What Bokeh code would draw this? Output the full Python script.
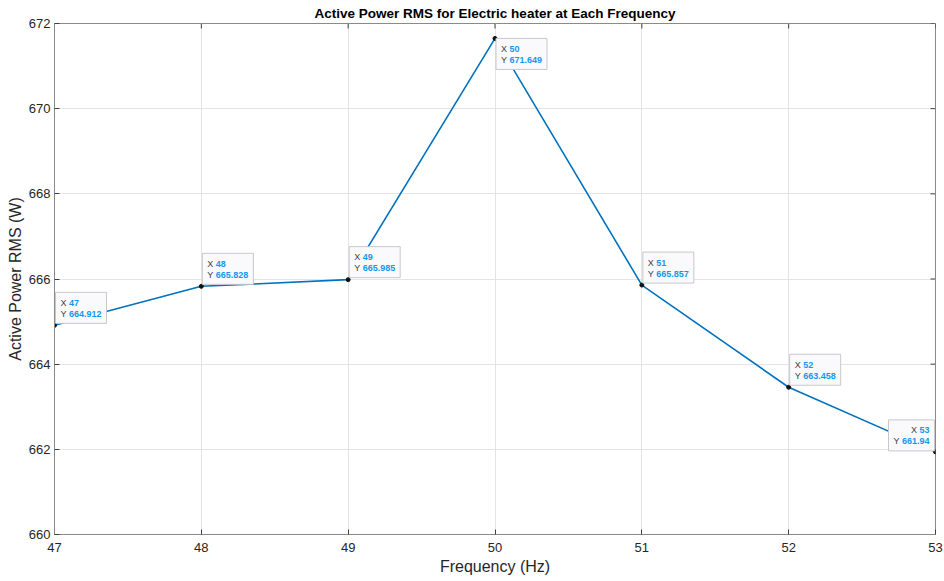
from bokeh.plotting import figure
from bokeh.models import Range1d, FixedTicker, ColumnDataSource
from bokeh.core.properties import value
from bokeh.embed import file_html
from bokeh.resources import INLINE

# ---- data ----
freq = [47, 48, 49, 50, 51, 52, 53]
power = [664.912, 665.828, 665.985, 671.649, 665.857, 663.458, 661.94]
power_text = ["664.912", "665.828", "665.985", "671.649", "665.857", "663.458", "661.94"]
freq_text = ["47", "48", "49", "50", "51", "52", "53"]
x_ticks = [47, 48, 49, 50, 51, 52, 53]
y_ticks = [660, 662, 664, 666, 668, 670, 672]

title_text = "Active Power RMS for Electric heater at Each Frequency"
x_label = "Frequency (Hz)"
y_label = "Active Power RMS (W)"

FONT = "Liberation Sans"
FW, FH = 881, 511
X0, X1, Y0, Y1 = 47, 53, 660, 672

p = figure(frame_width=FW, frame_height=FH,
           x_range=Range1d(X0, X1), y_range=Range1d(Y0, Y1),
           output_backend="svg", toolbar_location=None,
           min_border_left=54, min_border_right=9,
           min_border_top=23, min_border_bottom=47,
           title=title_text)
p.background_fill_color = "white"
p.border_fill_color = "white"
p.outline_line_color = "#8a8a8a"

p.title.text_font = FONT
p.title.text_font_size = "13.5px"
p.title.text_font_style = "bold"
p.title.align = "center"
p.title.text_color = "#000000"
p.title.standoff = 5

AX_COL = "#8a8a8a"
TICK_COL = "#404040"

for ax in (p.xaxis[0], p.yaxis[0]):
    ax.major_tick_in = 5
    ax.major_tick_out = 0
    ax.minor_tick_in = 0
    ax.minor_tick_out = 0
    ax.axis_line_color = AX_COL
    ax.major_tick_line_color = TICK_COL
    ax.major_label_text_font = FONT
    ax.major_label_text_font_size = "13px"
    ax.major_label_text_color = "#262626"
    ax.axis_label_text_font = FONT
    ax.axis_label_text_font_size = "16px"
    ax.axis_label_text_font_style = "normal"
    ax.axis_label_text_color = "#262626"

p.xaxis[0].ticker = FixedTicker(ticks=x_ticks)
p.yaxis[0].ticker = FixedTicker(ticks=y_ticks)
p.xaxis[0].axis_label = x_label
p.yaxis[0].axis_label = y_label
p.xaxis[0].major_label_standoff = 8
p.xaxis[0].axis_label_standoff = 3
p.yaxis[0].major_label_standoff = 4
p.yaxis[0].axis_label_standoff = 2

p.xgrid.ticker = FixedTicker(ticks=x_ticks)
p.ygrid.ticker = FixedTicker(ticks=y_ticks)
p.grid.grid_line_color = "#e4e4e4"
p.grid.grid_line_width = 1

dx = (X1 - X0) / FW  # data units per pixel
dy = (Y1 - Y0) / FH

# inward ticks on the top and right edges of the box
top_ticks = dict(x0=x_ticks, y0=[Y1] * len(x_ticks), x1=x_ticks, y1=[Y1 - 5 * dy] * len(x_ticks))
right_ticks = dict(x0=[X1] * len(y_ticks), y0=y_ticks, x1=[X1 - 5 * dx] * len(y_ticks), y1=y_ticks)
for d in (top_ticks, right_ticks):
    p.segment("x0", "y0", "x1", "y1", source=ColumnDataSource(d), line_color=TICK_COL, line_width=1)

# ---- line + markers ----
p.line(freq, power, line_color="#0072BD", line_width=1.6)
p.scatter(freq, power, size=4, fill_color="#111111", line_color="#111111")

# ---- data tips ----
FS = 9.0


def text_w(s):
    return sum(FS * (0.278 if c == "." else 0.556) for c in s)


box = dict(x=[], y=[], w=[], h=[])
lab = dict(x=[], y=[], t=[])
val = dict(x=[], y=[], t=[], align=[])
H = 31
for xv, yv, xs, ys in zip(freq, power, freq_text, power_text):
    vw = max(text_w(xs), text_w(ys))
    W = 5 + 8.5 + vw + 5
    px = (xv - X0) / dx
    py = (yv - Y0) / dy
    if px + W + 2 > FW:      # flip to the left
        left = px - 1 - W
        bottom = py + 1
    else:
        left = px + 1
        bottom = py + 2
    if bottom + H > FH:      # flip below
        bottom = py - H
    top = bottom + H
    box["x"].append(X0 + (left + W / 2) * dx)
    box["y"].append(Y0 + (bottom + H / 2) * dy)
    box["w"].append(W)
    box["h"].append(H)
    right_al = left < px
    for line_i, (lt, vt) in enumerate((("X", xs), ("Y", ys))):
        cy = Y0 + (top - 10.5 - 11 * line_i) * dy
        if right_al:
            vr = left + W - 5
            val["x"].append(X0 + vr * dx)
            val["align"].append("right")
            lab["x"].append(X0 + (vr - text_w(vt) - 8.5) * dx)
        else:
            val["x"].append(X0 + (left + 13.5) * dx)
            val["align"].append("left")
            lab["x"].append(X0 + (left + 5) * dx)
        val["y"].append(cy)
        val["t"].append(vt)
        lab["y"].append(cy)
        lab["t"].append(lt)

p.rect("x", "y", width="w", height="h", width_units="screen", height_units="screen",
       source=ColumnDataSource(box), fill_color="#fafafd", line_color="#c8c8cc", line_width=1)
p.text("x", "y", text="t", source=ColumnDataSource(lab), text_font=value(FONT),
       text_font_size="9px", text_color="#404040", text_baseline="middle", text_align="left")
p.text("x", "y", text="t", source=ColumnDataSource(val), text_font=value(FONT),
       text_font_size="9px", text_font_style="bold", text_color="#1597f0",
       text_baseline="middle", text_align="align")

open("out.html", "w").write(file_html(p, INLINE))
